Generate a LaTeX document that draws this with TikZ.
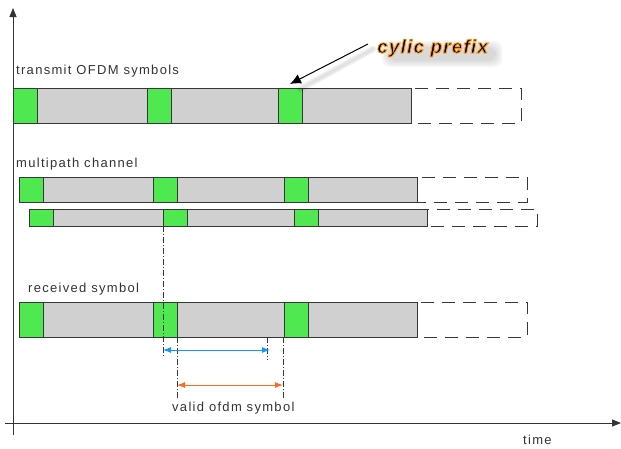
\documentclass[tikz,border=0pt]{standalone}
\usepackage{fontspec}
\setmainfont{Liberation Sans}
\newfontfamily\lblfont[LetterSpace=10]{Liberation Sans}
\newfontfamily\cpfont[LetterSpace=6]{Liberation Sans}
\usetikzlibrary{arrows.meta}

\definecolor{cpgreen}{RGB}{80,232,80}
\definecolor{symgray}{RGB}{208,208,208}
\definecolor{edgegray}{RGB}{55,55,55}
\definecolor{winblue}{RGB}{20,150,255}
\definecolor{winorange}{RGB}{255,105,30}

\tikzset{
  symbox/.style={draw=edgegray, line width=0.9pt, fill=symgray},
  cpbox/.style={draw=edgegray, line width=0.9pt, fill=cpgreen},
  nextbox/.style={draw=edgegray, line width=0.9pt, dash pattern=on 13pt off 8pt},
  marker/.style={draw=edgegray, line width=0.6pt, dash pattern=on 6pt off 2pt on 1pt off 2pt},
  axis/.style={draw=black!80, line width=0.9pt, -{Triangle[length=9pt,width=7pt]}},
  lbl/.style={font=\lblfont\fontsize{13}{15}\selectfont, text=black!80, inner sep=0pt, anchor=base west},
  cplbl/.style={font=\cpfont\bfseries\itshape\fontsize{19}{21}\selectfont, inner sep=0pt, anchor=base west},
  window/.style={line width=1pt, {Latex[length=8pt,width=6pt]}-{Latex[length=8pt,width=6pt]}},
}

% orange rim round the callout letters
\newcommand\rimtext[1]{\special{pdf:literal direct 1 0.6 0.1 RG 0.9 w 2 Tr}#1\special{pdf:literal direct 0 Tr}}

% one row of symbols: start x, top y, bottom y
\newcommand\symrow[3]{%
  \draw[symbox] (#1,#2) rectangle (#1+398,#3);
  \foreach \off in {0,134,265}
    \draw[cpbox] (#1+\off,#2) rectangle (#1+\off+24,#3);
  \draw[nextbox] (#1+398,#2) rectangle (#1+508,#3);
}

\begin{document}
\begin{tikzpicture}[x=1pt,y=-1pt]
\useasboundingbox (0,0) rectangle (621,448);

% axes
\draw[axis] (13,435) -- (13,8);
\draw[axis] (5,423) -- (621,423);
\node[lbl] (time) at (523,444) {time};

% transmitted symbols
\node[lbl] (tx) at (16,74) {transmit OFDM symbols};
\symrow{13}{88}{123}

% cyclic prefix callout, soft shadow first
\foreach \w in {3,5,7}
  \draw[line width=\w pt, black, opacity=0.04, line cap=round] (373,49) -- (300,89);
\foreach \r in {0,2,4,6}
  \fill[black, opacity=0.04, rounded corners=8pt] (388-\r,47-\r) rectangle (496+\r,61+\r);
\coordinate (cptip) at (290,84);
\node[cplbl, text=black] (cp) at (377,53) {\rimtext{cylic prefix}};
\draw[line width=1pt, -{Latex[length=11pt,width=10pt]}] ([xshift=-9pt,yshift=9pt]cp.base west) -- (cptip);

% multipath channel
\node[lbl] (mp) at (16,167) {multipath channel};
\symrow{19}{177}{202}
\symrow{29}{209}{226}

% received symbol
\node[lbl] (rx) at (28,292) {received symbol};
\symrow{19}{302}{337}

% FFT window markers
\coordinate (m1t) at (163,226); \coordinate (m1b) at (163,357);
\coordinate (m2t) at (177,337); \coordinate (m2b) at (177,398);
\coordinate (m3t) at (267,337); \coordinate (m3b) at (267,360);
\coordinate (m4t) at (283,337); \coordinate (m4b) at (283,398);
\foreach \m in {1,2,3,4}
  \draw[marker] (m\m t) -- (m\m b);

\coordinate (bl) at (163,350); \coordinate (br) at (270,350);
\draw[window, winblue] (bl) -- (br);
\coordinate (ol) at (177,385); \coordinate (or) at (283,385);
\draw[window, winorange] (ol) -- (or);
\node[lbl] (valid) at (172,411) {valid ofdm symbol};
\end{tikzpicture}
\end{document}
